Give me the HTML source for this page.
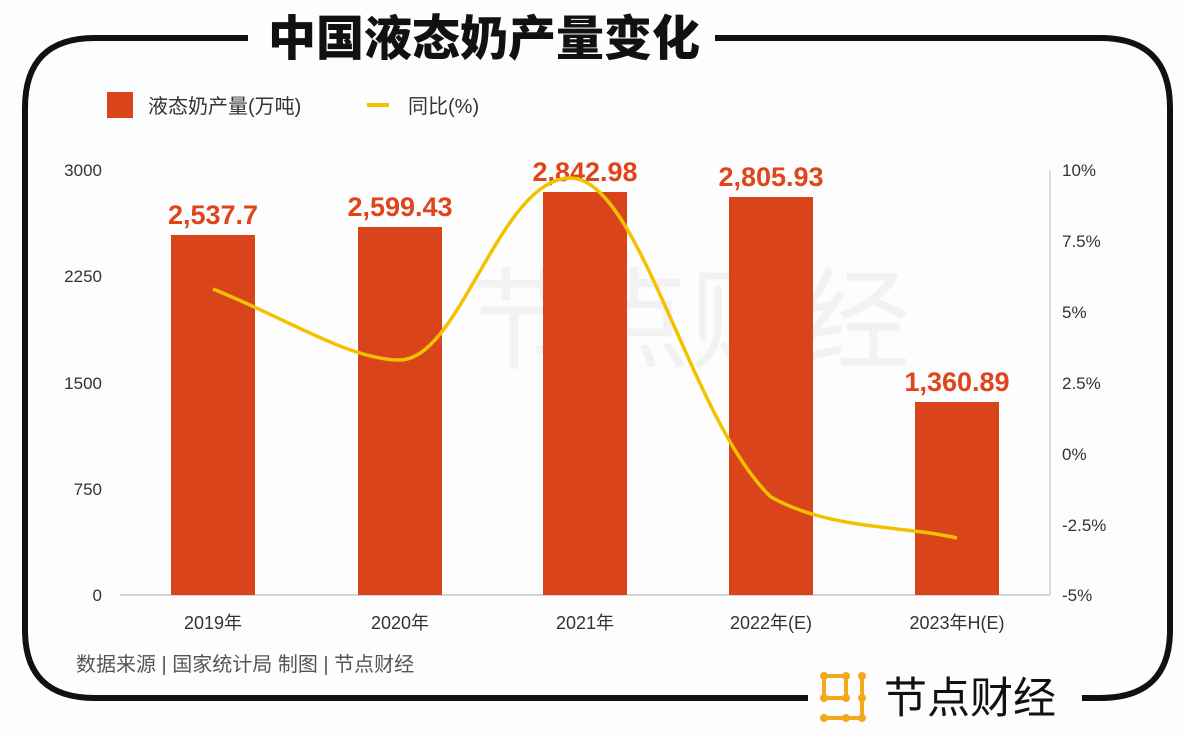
<!DOCTYPE html>
<html><head><meta charset="utf-8"><style>
body{margin:0;background:#fff;}
svg{display:block;font-family:"Liberation Sans","Noto Sans CJK SC",sans-serif;}
</style></head><body>
<svg width="1186" height="732" viewBox="0 0 1186 732">
<rect width="1186" height="732" fill="#fdfdfd"/>
<path d="M248 38 H95 Q25 38 25 108 V630 Q25 698 95 698 H808" fill="none" stroke="#111" stroke-width="6"/>
<path d="M715 38 H1100 Q1170 38 1170 108 V630 Q1170 698 1100 698 H1082" fill="none" stroke="#111" stroke-width="6"/>
<text x="484" y="55" font-size="48" text-anchor="middle" fill="#111" font-family="Noto Sans CJK SC,sans-serif" font-weight="900">中国液态奶产量变化</text>
<rect x="107" y="92" width="26" height="26" fill="#d9441b"/>
<text x="148" y="113" font-size="20" fill="#333">液态奶产量(万吨)</text>
<rect x="367" y="103" width="22" height="4" fill="#f2c200"/>
<text x="408" y="113" font-size="20" fill="#333">同比(%)</text>
<text x="470" y="360" font-size="110" fill="#f2f2f2" font-family="Noto Sans CJK SC,sans-serif">节点财经</text>
<g font-size="17" fill="#333" text-anchor="end">
<text x="102" y="176">3000</text><text x="102" y="282">2250</text><text x="102" y="389">1500</text><text x="102" y="495">750</text><text x="102" y="601">0</text>
</g>
<g font-size="17" fill="#333">
<text x="1062" y="176">10%</text><text x="1062" y="247">7.5%</text><text x="1062" y="318">5%</text><text x="1062" y="389">2.5%</text><text x="1062" y="460">0%</text><text x="1062" y="531">-2.5%</text><text x="1062" y="601">-5%</text>
</g>
<line x1="1050" y1="170" x2="1050" y2="595" stroke="#bbb"/>
<line x1="120" y1="595" x2="1050" y2="595" stroke="#aaa"/>
<g fill="#d9441b">
<rect x="171" y="235" width="84" height="360"/>
<rect x="358" y="227" width="84" height="368"/>
<rect x="543" y="192" width="84" height="403"/>
<rect x="729" y="197" width="84" height="398"/>
<rect x="915" y="402" width="84" height="193"/>
</g>
<g font-size="27" font-weight="bold" fill="#e0441b" text-anchor="middle">
<text x="213" y="224">2,537.7</text><text x="400" y="216">2,599.43</text><text x="585" y="181">2,842.98</text><text x="771" y="186">2,805.93</text><text x="957" y="391">1,360.89</text>
</g>
<path d="M213 289 C290 320 350 360 400 360 C460 360 500 178 570 178 C640 178 690 420 771 497 C830 530 900 525 957 538" fill="none" stroke="#f2c200" stroke-width="3.5"/>
<g font-size="18" fill="#333" text-anchor="middle">
<text x="213" y="629">2019年</text><text x="400" y="629">2020年</text><text x="585" y="629">2021年</text><text x="771" y="629">2022年(E)</text><text x="957" y="629">2023年H(E)</text>
</g>
<text x="76" y="671" font-size="20" fill="#555">数据来源 | 国家统计局 制图 | 节点财经</text>
<g fill="none" stroke="#f2a91c" stroke-width="4">
<rect x="824" y="676" width="22" height="22"/>
<line x1="862" y1="676" x2="862" y2="718"/>
<line x1="824" y1="718" x2="862" y2="718"/>
</g>
<g fill="#f2a91c"><circle cx="824" cy="676" r="4"/><circle cx="846" cy="676" r="4"/><circle cx="824" cy="698" r="4"/><circle cx="846" cy="698" r="4"/><circle cx="862" cy="676" r="4"/><circle cx="862" cy="698" r="4"/><circle cx="824" cy="718" r="4"/><circle cx="846" cy="718" r="4"/><circle cx="862" cy="718" r="4"/></g>
<text x="884" y="713" font-size="43" fill="#111" font-family="Noto Sans CJK SC,sans-serif">节点财经</text>
</svg>
</body></html>
